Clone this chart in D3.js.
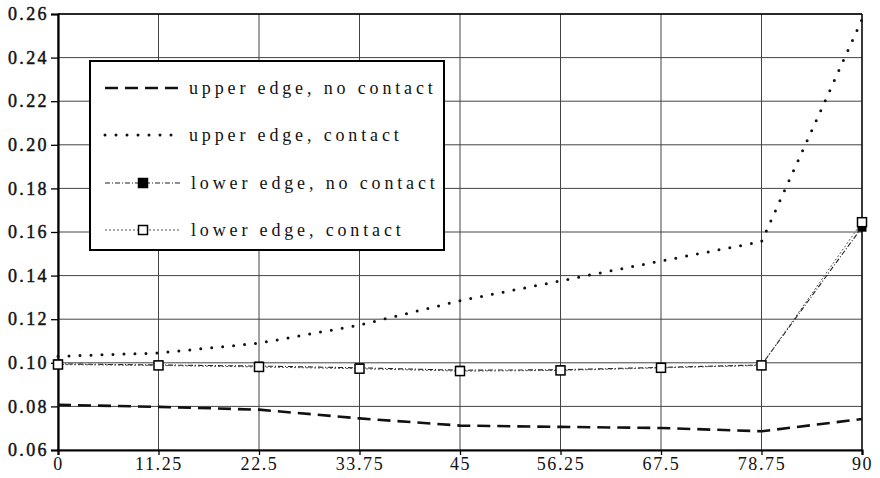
<!DOCTYPE html>
<html><head><meta charset="utf-8">
<script src="https://cdn.jsdelivr.net/npm/d3@7"></script>
<style>
html,body{margin:0;padding:0;background:#fff;}
svg{display:block;}
svg text{font-family:"Liberation Serif","Tinos","Times New Roman","DejaVu Serif",serif !important;fill:#111;}
</style></head>
<body>
<svg id="chart" width="880" height="478"></svg>
<script>
const angles = [0, 11.25, 22.5, 33.75, 45, 56.25, 67.5, 78.75, 90];
const xTickLabels = ["0", "11.25", "22.5", "33.75", "45", "56.25", "67.5", "78.75", "90"];
const yTicks = [0.06, 0.08, 0.10, 0.12, 0.14, 0.16, 0.18, 0.20, 0.22, 0.24, 0.26];
const upperNoContact = [0.0807, 0.0798, 0.0785, 0.0745, 0.0712, 0.0706, 0.0701, 0.0686, 0.0742];
const upperContact   = [0.1030, 0.1045, 0.1090, 0.1173, 0.1285, 0.1376, 0.1467, 0.1556, 0.2575];
const lowerNoContact = [0.0995, 0.0990, 0.0985, 0.0977, 0.0966, 0.0968, 0.0979, 0.0990, 0.1622];
const lowerContact   = [0.0992, 0.0988, 0.0981, 0.0973, 0.0962, 0.0965, 0.0977, 0.0988, 0.1645];
const seriesNames = ["upper edge, no contact", "upper edge, contact", "lower edge, no contact", "lower edge, contact"];

const svg = d3.select("#chart");
const L = 58, R = 862, T = 14, B = 450;
const x = d3.scaleLinear().domain([0, 90]).range([L, R]);
const y = d3.scaleLinear().domain([0.06, 0.26]).range([B, T]);

// gridlines
const grid = svg.append("g");
grid.selectAll("line.h").data(yTicks).join("line")
  .attr("x1", L).attr("x2", R).attr("y1", d => y(d)).attr("y2", d => y(d))
  .attr("stroke", "#444").attr("stroke-width", 1);
grid.selectAll("line.v").data(angles).join("line")
  .attr("y1", T).attr("y2", B).attr("x1", d => x(d)).attr("x2", d => x(d))
  .attr("stroke", "#444").attr("stroke-width", 1);

// frame top/right
svg.append("line").attr("x1", L).attr("x2", R).attr("y1", T).attr("y2", T).attr("stroke", "#000").attr("stroke-width", 1.6);
svg.append("line").attr("x1", R).attr("x2", R).attr("y1", T).attr("y2", B).attr("stroke", "#000").attr("stroke-width", 1.3);

// axes
const yAxis = d3.axisLeft(y).tickValues(yTicks).tickFormat(d3.format(".2f")).tickSize(7).tickPadding(2);
const gy = svg.append("g").attr("transform", `translate(${L},0)`).call(yAxis).attr("font-family", null);
gy.select(".domain").attr("stroke", "#000").attr("stroke-width", 2.2);
gy.selectAll(".tick line").attr("stroke", "#000").attr("stroke-width", 1.3);
gy.selectAll(".tick text").attr("font-size", 18)
  .attr("letter-spacing", "2.4px").attr("fill", "#111").attr("stroke", "#111").attr("stroke-width", 0.45);

const xAxis = d3.axisBottom(x).tickValues(angles).tickFormat((d, i) => xTickLabels[i]).tickSize(5).tickPadding(2);
const gx = svg.append("g").attr("transform", `translate(0,${B})`).call(xAxis).attr("font-family", null);
gx.select(".domain").attr("stroke", "#000").attr("stroke-width", 2.2);
gx.selectAll(".tick line").attr("stroke", "#000").attr("stroke-width", 1.3);
gx.selectAll(".tick text").attr("font-size", 18)
  .attr("letter-spacing", "1.6px").attr("fill", "#111");

const line = d3.line().x((d, i) => x(angles[i])).y(d => y(d));

// series
svg.append("path").datum(lowerNoContact).attr("d", line).attr("fill", "none")
  .attr("stroke", "#222").attr("stroke-width", 1.1).attr("stroke-dasharray", "5,2,1,2");
svg.append("path").datum(lowerContact).attr("d", line).attr("fill", "none")
  .attr("stroke", "#555").attr("stroke-width", 1).attr("stroke-dasharray", "2,2");
svg.append("path").datum(upperNoContact).attr("d", line).attr("fill", "none")
  .attr("stroke", "#111").attr("stroke-width", 2.6).attr("stroke-dasharray", "13,7");
svg.append("path").datum(upperContact).attr("d", line).attr("fill", "none")
  .attr("stroke", "#111").attr("stroke-width", 3).attr("stroke-linecap", "round").attr("stroke-dasharray", "0,11");

const S = 9;
svg.append("g").selectAll("rect").data(lowerNoContact).join("rect")
  .attr("x", (d, i) => x(angles[i]) - S / 2).attr("y", d => y(d) - S / 2)
  .attr("width", S).attr("height", S).attr("fill", "#000");
svg.append("g").selectAll("rect").data(lowerContact).join("rect")
  .attr("x", (d, i) => x(angles[i]) - S / 2).attr("y", d => y(d) - S / 2)
  .attr("width", S).attr("height", S).attr("fill", "#fff").attr("stroke", "#000").attr("stroke-width", 1.5);

// legend
const lg = svg.append("g");
lg.append("rect").attr("x", 90).attr("y", 61).attr("width", 354).attr("height", 189)
  .attr("fill", "#fff").attr("stroke", "#000").attr("stroke-width", 2);
const rowsY = [88, 135, 183, 230];
const styles = [
  {stroke: "#111", w: 2.6, dash: "13,7", cap: "butt", marker: null},
  {stroke: "#111", w: 3, dash: "0,11", cap: "round", marker: null},
  {stroke: "#222", w: 1.1, dash: "5,2,1,2", cap: "butt", marker: "filled"},
  {stroke: "#555", w: 1, dash: "2,2", cap: "butt", marker: "open"}
];
seriesNames.forEach((name, i) => {
  const st = styles[i];
  const yy = rowsY[i];
  lg.append("line").attr("x1", 105).attr("x2", 181).attr("y1", yy).attr("y2", yy)
    .attr("stroke", st.stroke).attr("stroke-width", st.w).attr("stroke-dasharray", st.dash)
    .attr("stroke-linecap", st.cap);
  if (st.marker) {
    lg.append("rect").attr("x", 143 - S / 2).attr("y", yy - S / 2).attr("width", S).attr("height", S)
      .attr("fill", st.marker === "filled" ? "#000" : "#fff")
      .attr("stroke", "#000").attr("stroke-width", 1.5);
  }
  lg.append("text").attr("x", i >= 2 ? 191 : 189).attr("y", yy + 6)
    .attr("font-size", 18).attr("letter-spacing", "3.85px").text(name);
});
</script>
</body></html>
